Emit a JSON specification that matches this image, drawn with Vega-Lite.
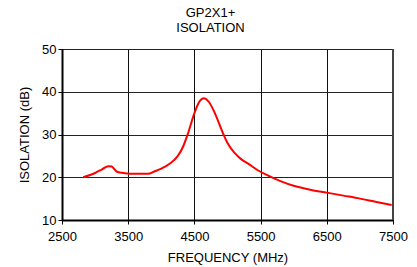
{
  "$schema": "https://vega.github.io/schema/vega-lite/v6.json",
  "width": 331,
  "height": 171,
  "autosize": {"type": "none"},
  "padding": {"left": 62, "top": 49, "right": 24, "bottom": 47},
  "background": "white",
  "title": {
    "text": ["GP2X1+", "ISOLATION"],
    "anchor": "middle",
    "frame": "group",
    "dx": -17,
    "offset": 8,
    "font": "Liberation Sans",
    "fontSize": 13,
    "fontWeight": "normal",
    "color": "#000",
    "lineHeight": 15
  },
  "config": {
    "view": {"stroke": "#aaaaaa", "strokeWidth": 1},
    "axis": {
      "labelFont": "Liberation Sans",
      "titleFont": "Liberation Sans",
      "labelFontSize": 13,
      "titleFontSize": 13,
      "titleFontWeight": "normal",
      "labelColor": "#000",
      "titleColor": "#000",
      "labelFlush": false
    }
  },
  "data": {
    "values": [
      {"f": 2820, "iso": 20.0},
      {"f": 3000, "iso": 21.0},
      {"f": 3100, "iso": 21.8},
      {"f": 3200, "iso": 22.6},
      {"f": 3250, "iso": 22.5},
      {"f": 3330, "iso": 21.3},
      {"f": 3450, "iso": 20.95},
      {"f": 3600, "iso": 20.8},
      {"f": 3800, "iso": 20.8},
      {"f": 3900, "iso": 21.4},
      {"f": 4000, "iso": 22.0},
      {"f": 4130, "iso": 23.2},
      {"f": 4250, "iso": 25.0},
      {"f": 4330, "iso": 27.2},
      {"f": 4400, "iso": 30.1},
      {"f": 4500, "iso": 35.0},
      {"f": 4580, "iso": 37.8},
      {"f": 4640, "iso": 38.5},
      {"f": 4720, "iso": 37.6},
      {"f": 4800, "iso": 35.3},
      {"f": 4940, "iso": 30.0},
      {"f": 5000, "iso": 28.0},
      {"f": 5100, "iso": 25.8},
      {"f": 5200, "iso": 24.3},
      {"f": 5340, "iso": 22.9},
      {"f": 5450, "iso": 21.7},
      {"f": 5600, "iso": 20.5},
      {"f": 5800, "iso": 19.1},
      {"f": 6000, "iso": 18.0},
      {"f": 6250, "iso": 17.1},
      {"f": 6500, "iso": 16.4},
      {"f": 6750, "iso": 15.7},
      {"f": 7000, "iso": 15.0},
      {"f": 7250, "iso": 14.2},
      {"f": 7480, "iso": 13.5}
    ]
  },
  "layer": [
    {
      "mark": {"type": "line", "color": "#ff0000", "strokeWidth": 2, "interpolate": "monotone"},
      "encoding": {
        "x": {
          "field": "f", "type": "quantitative",
          "scale": {"domain": [2500, 7500], "nice": false},
          "axis": {
            "title": "FREQUENCY (MHz)",
            "values": [2500, 3500, 4500, 5500, 6500, 7500],
            "format": "d",
            "grid": true, "gridColor": "#111", "gridOpacity": 1, "gridWidth": 1,
            "domainColor": "#000", "domainWidth": 2,
            "tickColor": "#000", "tickSize": 4, "tickWidth": 1,
            "labelPadding": 6, "titlePadding": 8
          }
        },
        "y": {
          "field": "iso", "type": "quantitative",
          "scale": {"domain": [10, 50], "nice": false},
          "axis": {
            "title": "ISOLATION (dB)",
            "values": [10, 20, 30, 40, 50],
            "grid": true, "gridColor": "#222", "gridOpacity": 1, "gridWidth": 1,
            "domainColor": "#000", "domainWidth": 2,
            "tickColor": "#000", "tickSize": 4, "tickWidth": 1,
            "labelPadding": 2, "titlePadding": 10
          }
        }
      }
    },
    {
      "mark": {"type": "rule", "color": "#444", "strokeWidth": 2},
      "data": {"values": [{"f": 7500}]},
      "encoding": {"x": {"field": "f", "type": "quantitative"}}
    }
  ]
}
